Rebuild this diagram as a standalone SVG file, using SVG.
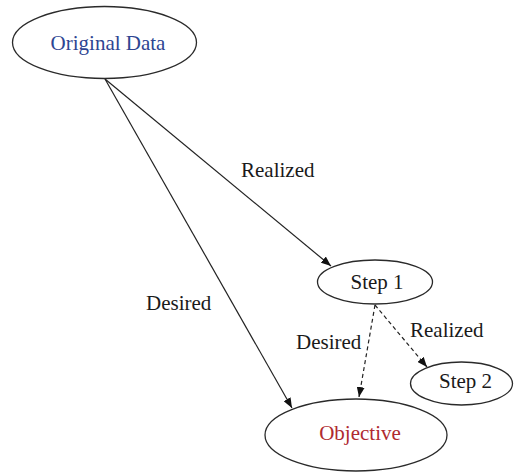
<svg xmlns="http://www.w3.org/2000/svg" width="514" height="473" viewBox="0 0 514 473">
<style>
.node ellipse{fill:#fff;stroke:#2a2a2a;stroke-width:1.3}
text{font-size:21px;fill:#1a1a1a}
.edge{stroke:#222;stroke-width:1.2;fill:none}
.dash{stroke-dasharray:4 3}
</style>
<defs>
<marker id="ah" viewBox="0 0 10 8" refX="10" refY="4" markerWidth="10" markerHeight="8" markerUnits="userSpaceOnUse" orient="auto">
<path d="M0,0 L10,4 L0,8 Z" fill="#111"/>
</marker>
</defs>
<rect width="514" height="473" fill="#fff"/>
<g font-family="Liberation Serif, Times New Roman, serif">
<g id="connectors">
<line class="edge" x1="105" y1="79" x2="331" y2="266" marker-end="url(#ah)"/>
<line class="edge" x1="105" y1="79" x2="292" y2="408" marker-end="url(#ah)"/>
<line class="edge dash" x1="375" y1="305" x2="359" y2="397" marker-end="url(#ah)"/>
<line class="edge dash" x1="375" y1="305" x2="427" y2="367" marker-end="url(#ah)"/>
<text x="241" y="177">Realized</text>
<text x="146" y="310">Desired</text>
<text x="296" y="349">Desired</text>
<text x="410" y="337">Realized</text>
</g>
<g id="original-data" class="node">
<ellipse cx="104.5" cy="42.5" rx="92" ry="36"/>
<text x="108" y="50" text-anchor="middle" style="fill:#2e4592">Original Data</text>
</g>
<g id="step1" class="node">
<ellipse cx="375" cy="282" rx="57.5" ry="22"/>
<text x="377" y="289" text-anchor="middle">Step 1</text>
</g>
<g id="step2" class="node">
<ellipse cx="461.5" cy="383.5" rx="51" ry="21.5"/>
<text x="465.5" y="388" text-anchor="middle">Step 2</text>
</g>
<g id="objective" class="node">
<ellipse cx="356" cy="435" rx="91" ry="36"/>
<text x="360" y="440" text-anchor="middle" style="fill:#b02a30">Objective</text>
</g>
</g>
</svg>
